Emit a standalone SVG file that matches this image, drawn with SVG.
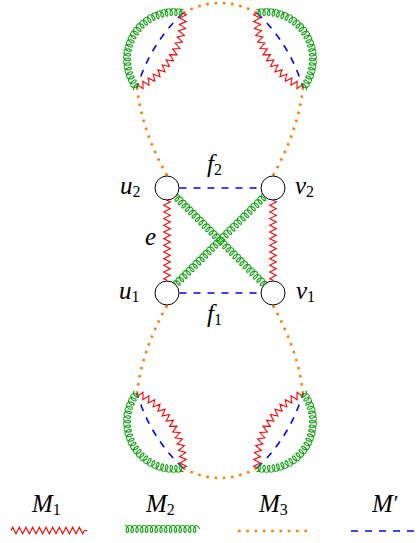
<svg xmlns="http://www.w3.org/2000/svg" xmlns:xlink="http://www.w3.org/1999/xlink" width="418" height="543" viewBox="0 0 418 543">
<style>
.coil{fill:none;stroke:#12a312;stroke-width:1.15}
.zig{fill:none;stroke:#ff0000;stroke-width:1.1;stroke-linejoin:miter}
.dash{fill:none;stroke:#0000ff;stroke-width:1.6;stroke-dasharray:7 7}
.dot{fill:none;stroke:#ff8000;stroke-width:2.6;stroke-dasharray:2.6 5.7}
.node{fill:#fff;stroke:#000;stroke-width:1}
text{font-family:"Liberation Serif","Times New Roman",serif;font-size:25px;font-style:italic;fill:#000}
.sub{font-style:normal;font-size:16px}
</style>
<defs>
<path id="L" class="coil" d="M-2.4,-3.5 C-0.796,-3.5 0.7,-1.833 1.1,0 C1.5,1.833 0.804,3.5 0,3.5 C-0.804,3.5 -1.5,1.833 -1.1,0 C-0.7,-1.833 0.796,-3.5 2.4,-3.5"/>
<path id="Z" class="zig" d="M-3.34,0 L-1.67,-3.3 L1.67,3.3 L3.34,0"/>
<g id="xcoil">
<path class="coil" d="M12,0 L12.6,-3.5 M137.4,-3.5 L138,0"/>
<use xlink:href="#L" x="15"/><use xlink:href="#L" x="19.8"/><use xlink:href="#L" x="24.6"/><use xlink:href="#L" x="29.4"/><use xlink:href="#L" x="34.2"/><use xlink:href="#L" x="39"/><use xlink:href="#L" x="43.8"/><use xlink:href="#L" x="48.6"/><use xlink:href="#L" x="53.4"/><use xlink:href="#L" x="58.2"/><use xlink:href="#L" x="63"/><use xlink:href="#L" x="67.8"/><use xlink:href="#L" x="72.6"/><use xlink:href="#L" x="77.4"/><use xlink:href="#L" x="82.2"/><use xlink:href="#L" x="87"/><use xlink:href="#L" x="91.8"/><use xlink:href="#L" x="96.6"/><use xlink:href="#L" x="101.4"/><use xlink:href="#L" x="106.2"/><use xlink:href="#L" x="111"/><use xlink:href="#L" x="115.8"/><use xlink:href="#L" x="120.6"/><use xlink:href="#L" x="125.4"/><use xlink:href="#L" x="130.2"/><use xlink:href="#L" x="135"/>
</g>
<g id="cluster">
<path class="dash" d="M183,13 Q149.8,44.2 137,88"/>
<g transform="translate(105.3,16.95)">
<use xlink:href="#Z" transform="rotate(-0.451) translate(77.8 0) rotate(90)"/>
<use xlink:href="#Z" transform="rotate(4.467) translate(77.8 0) rotate(90)"/>
<use xlink:href="#Z" transform="rotate(9.386) translate(77.8 0) rotate(90)"/>
<use xlink:href="#Z" transform="rotate(14.304) translate(77.8 0) rotate(90)"/>
<use xlink:href="#Z" transform="rotate(19.223) translate(77.8 0) rotate(90)"/>
<use xlink:href="#Z" transform="rotate(24.142) translate(77.8 0) rotate(90)"/>
<use xlink:href="#Z" transform="rotate(29.060) translate(77.8 0) rotate(90)"/>
<use xlink:href="#Z" transform="rotate(33.979) translate(77.8 0) rotate(90)"/>
<use xlink:href="#Z" transform="rotate(38.897) translate(77.8 0) rotate(90)"/>
<use xlink:href="#Z" transform="rotate(43.816) translate(77.8 0) rotate(90)"/>
<use xlink:href="#Z" transform="rotate(48.735) translate(77.8 0) rotate(90)"/>
<use xlink:href="#Z" transform="rotate(53.653) translate(77.8 0) rotate(90)"/>
<use xlink:href="#Z" transform="rotate(58.572) translate(77.8 0) rotate(90)"/>
<use xlink:href="#Z" transform="rotate(63.490) translate(77.8 0) rotate(90)"/>
</g>
<g transform="translate(174.1,59.15)">
<use xlink:href="#L" transform="rotate(-81.99) translate(47 0) rotate(90)"/>
<use xlink:href="#L" transform="rotate(-87.78) translate(47 0) rotate(90)"/>
<use xlink:href="#L" transform="rotate(-93.56) translate(47 0) rotate(90)"/>
<use xlink:href="#L" transform="rotate(-99.34) translate(47 0) rotate(90)"/>
<use xlink:href="#L" transform="rotate(-105.12) translate(47 0) rotate(90)"/>
<use xlink:href="#L" transform="rotate(-110.91) translate(47 0) rotate(90)"/>
<use xlink:href="#L" transform="rotate(-116.69) translate(47 0) rotate(90)"/>
<use xlink:href="#L" transform="rotate(-122.47) translate(47 0) rotate(90)"/>
<use xlink:href="#L" transform="rotate(-128.26) translate(47 0) rotate(90)"/>
<use xlink:href="#L" transform="rotate(-134.04) translate(47 0) rotate(90)"/>
<use xlink:href="#L" transform="rotate(-139.82) translate(47 0) rotate(90)"/>
<use xlink:href="#L" transform="rotate(-145.61) translate(47 0) rotate(90)"/>
<use xlink:href="#L" transform="rotate(-151.39) translate(47 0) rotate(90)"/>
<use xlink:href="#L" transform="rotate(-157.17) translate(47 0) rotate(90)"/>
<use xlink:href="#L" transform="rotate(-162.96) translate(47 0) rotate(90)"/>
<use xlink:href="#L" transform="rotate(-168.74) translate(47 0) rotate(90)"/>
<use xlink:href="#L" transform="rotate(-174.52) translate(47 0) rotate(90)"/>
<use xlink:href="#L" transform="rotate(-180.31) translate(47 0) rotate(90)"/>
<use xlink:href="#L" transform="rotate(-186.09) translate(47 0) rotate(90)"/>
<use xlink:href="#L" transform="rotate(-191.87) translate(47 0) rotate(90)"/>
<use xlink:href="#L" transform="rotate(-197.65) translate(47 0) rotate(90)"/>
<use xlink:href="#L" transform="rotate(-203.44) translate(47 0) rotate(90)"/>
<use xlink:href="#L" transform="rotate(-209.22) translate(47 0) rotate(90)"/>
<use xlink:href="#L" transform="rotate(-215.00) translate(47 0) rotate(90)"/>
</g>
</g>
</defs>
<rect width="418" height="543" fill="#fff"/>
<g id="connectors">
<path class="dot" d="M167,175.5 Q142,131 137,88"/>
<path class="dot" d="M183,13 Q220,-7 257,13"/>
<path class="dot" d="M273,175.5 Q298,131 303,88"/>
<path class="dot" d="M167,305.5 Q142,350 137,393"/>
<path class="dot" d="M183,468 Q220,488 257,468"/>
<path class="dot" d="M273,305.5 Q298,350 303,393"/>
<use xlink:href="#cluster"/>
<use xlink:href="#cluster" transform="matrix(-1 0 0 1 440 0)"/>
<use xlink:href="#cluster" transform="matrix(1 0 0 -1 0 481)"/>
<use xlink:href="#cluster" transform="matrix(-1 0 0 -1 440 481)"/>
<path class="dash" d="M179.5,188 H260.5"/>
<path class="dash" d="M179.5,293 H260.5"/>
<path class="zig" d="M167,200.3 l3.3,1.667 -6.6,3.333 3.3,1.667 3.3,1.667 -6.6,3.333 3.3,1.667 3.3,1.667 -6.6,3.333 3.3,1.667 3.3,1.667 -6.6,3.333 3.3,1.667 3.3,1.667 -6.6,3.333 3.3,1.667 3.3,1.667 -6.6,3.333 3.3,1.667 3.3,1.667 -6.6,3.333 3.3,1.667 3.3,1.667 -6.6,3.333 3.3,1.667 3.3,1.667 -6.6,3.333 3.3,1.667 3.3,1.667 -6.6,3.333 3.3,1.667 3.3,1.667 -6.6,3.333 3.3,1.667 3.3,1.667 -6.6,3.333 3.3,1.667"/>
<path class="zig" d="M273,200.3 l3.3,1.667 -6.6,3.333 3.3,1.667 3.3,1.667 -6.6,3.333 3.3,1.667 3.3,1.667 -6.6,3.333 3.3,1.667 3.3,1.667 -6.6,3.333 3.3,1.667 3.3,1.667 -6.6,3.333 3.3,1.667 3.3,1.667 -6.6,3.333 3.3,1.667 3.3,1.667 -6.6,3.333 3.3,1.667 3.3,1.667 -6.6,3.333 3.3,1.667 3.3,1.667 -6.6,3.333 3.3,1.667 3.3,1.667 -6.6,3.333 3.3,1.667 3.3,1.667 -6.6,3.333 3.3,1.667 3.3,1.667 -6.6,3.333 3.3,1.667"/>
<use xlink:href="#xcoil" transform="translate(167,188) rotate(44.73)"/>
<use xlink:href="#xcoil" transform="translate(167,293) rotate(-44.73)"/>
<text x="207" y="172">f<tspan class="sub" dy="3">2</tspan></text>
<text x="145" y="245">e</text>
<text x="207" y="322">f<tspan class="sub" dy="3">1</tspan></text>
</g>
<g id="u2"><circle class="node" cx="167" cy="188" r="12"/><text x="120" y="193.5">u<tspan class="sub" dy="3">2</tspan></text></g>
<g id="v2"><circle class="node" cx="273" cy="188" r="12"/><text x="295" y="193.5">v<tspan class="sub" dy="3">2</tspan></text></g>
<g id="u1"><circle class="node" cx="167" cy="293" r="12"/><text x="119" y="298.5">u<tspan class="sub" dy="3">1</tspan></text></g>
<g id="v1"><circle class="node" cx="273" cy="293" r="12"/><text x="296" y="298.5">v<tspan class="sub" dy="3">1</tspan></text></g>
<g id="legend">
<text x="32" y="512">M<tspan class="sub" dy="2.5">1</tspan></text>
<path class="zig" d="M11,530.5 l1.667,-3.3 3.333,6.6 1.667,-3.3 1.667,-3.3 3.333,6.6 1.667,-3.3 1.667,-3.3 3.333,6.6 1.667,-3.3 1.667,-3.3 3.333,6.6 1.667,-3.3 1.667,-3.3 3.333,6.6 1.667,-3.3 1.667,-3.3 3.333,6.6 1.667,-3.3 1.667,-3.3 3.333,6.6 1.667,-3.3 1.667,-3.3 3.333,6.6 1.667,-3.3 1.667,-3.3 3.333,6.6 1.667,-3.3 1.667,-3.3 3.333,6.6 1.667,-3.3 1.667,-3.3 3.333,6.6 1.667,-3.3 h3"/>
<text x="146" y="512">M<tspan class="sub" dy="2.5">2</tspan></text>
<g transform="translate(125,529)">
<use xlink:href="#L" x="2.4"/><use xlink:href="#L" x="7.2"/><use xlink:href="#L" x="12"/><use xlink:href="#L" x="16.8"/><use xlink:href="#L" x="21.6"/><use xlink:href="#L" x="26.4"/><use xlink:href="#L" x="31.2"/><use xlink:href="#L" x="36"/><use xlink:href="#L" x="40.8"/><use xlink:href="#L" x="45.6"/><use xlink:href="#L" x="50.4"/><use xlink:href="#L" x="55.2"/><use xlink:href="#L" x="60"/><use xlink:href="#L" x="64.8"/><use xlink:href="#L" x="69.6"/>
<path class="coil" d="M72,-3.5 L75,0"/>
</g>
<text x="259" y="512">M<tspan class="sub" dy="2.5">3</tspan></text>
<path class="dot" d="M238,531 H310"/>
<text x="372" y="512">M<tspan dx="1" dy="-2" font-style="normal" font-size="22">′</tspan></text>
<path class="dash" d="M351,531 H418"/>
</g>
</svg>
